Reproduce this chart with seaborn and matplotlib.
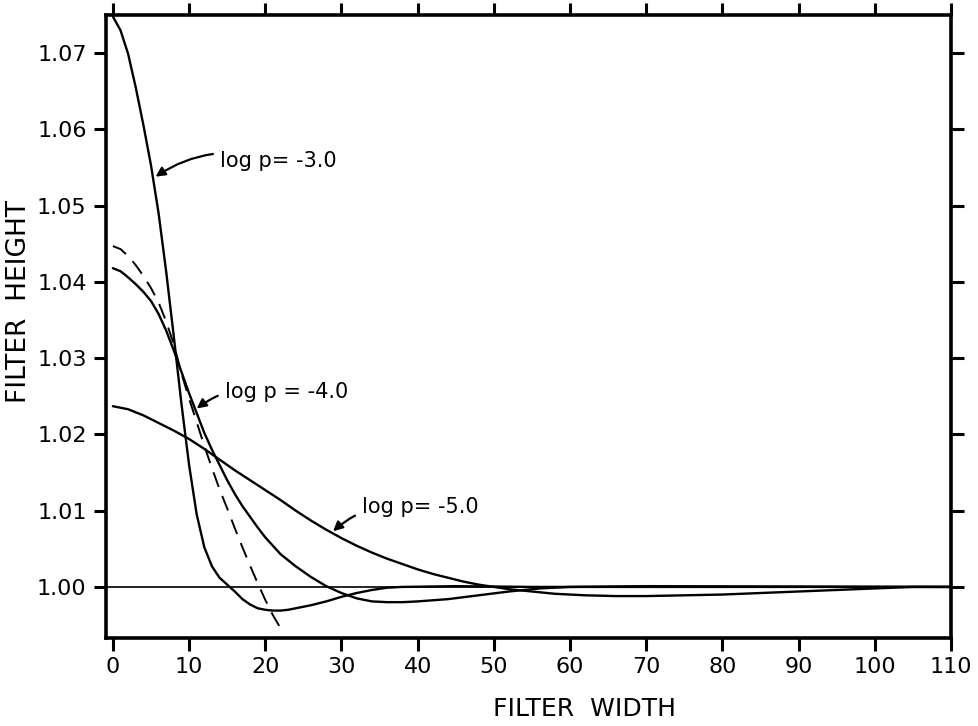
import numpy as np
import pandas as pd
import matplotlib
matplotlib.use("Agg")
import matplotlib.pyplot as plt
import seaborn as sns

# ---- data ----
width_p3 = [0, 1, 2, 3, 4, 5, 6, 7, 8, 9, 10, 11, 12, 13, 14, 15, 16, 17, 18, 19,
            20, 21, 22, 23, 24, 26, 28, 30, 32, 34, 36, 38, 45, 55, 110]
height_p3 = [1.0748, 1.0730, 1.0699, 1.0655, 1.0606, 1.0553, 1.0490, 1.0413, 1.0328,
             1.0240, 1.0160, 1.0095, 1.0052, 1.0027, 1.0012, 1.0003, 0.9994, 0.9984,
             0.9977, 0.9972, 0.9970, 0.9969, 0.9969, 0.9970, 0.9972, 0.9976, 0.9981,
             0.9987, 0.9992, 0.9996, 0.9999, 1.0000, 1.0001, 1.0000, 1.0000]

width_p4 = [0, 1, 2, 3, 4, 5, 6, 7, 8, 9, 10, 11, 12, 13, 14, 15, 16, 17, 18, 19, 20,
            22, 24, 26, 28, 30, 32, 34, 36, 38, 40, 44, 48, 52, 56, 60, 70, 110]
height_p4 = [1.0418, 1.0414, 1.0406, 1.0397, 1.0387, 1.0375, 1.0358, 1.0336, 1.0310,
             1.0282, 1.0254, 1.0228, 1.0202, 1.0180, 1.0160, 1.0140, 1.0122, 1.0106,
             1.0092, 1.0078, 1.0065, 1.0043, 1.0027, 1.0013, 1.0001, 0.9992, 0.9985,
             0.9981, 0.9980, 0.9980, 0.9981, 0.9984, 0.9989, 0.9994, 0.9998, 1.0000,
             1.0001, 1.0000]

width_p5 = [0, 2, 4, 6, 8, 10, 12, 14, 16, 18, 20, 22, 24, 26, 28, 30, 32, 34, 36, 38,
            40, 42, 44, 46, 48, 50, 52, 55, 58, 62, 66, 70, 75, 80, 85, 90, 95, 100,
            105, 110]
height_p5 = [1.0237, 1.0233, 1.0225, 1.0215, 1.0205, 1.0194, 1.0181, 1.0167, 1.0153,
             1.0140, 1.0127, 1.0114, 1.0100, 1.0087, 1.0075, 1.0064, 1.0054, 1.0045,
             1.0037, 1.0030, 1.0023, 1.0017, 1.0012, 1.0007, 1.0003, 1.0000, 0.9997,
             0.9994, 0.9991, 0.9989, 0.9988, 0.9988, 0.9989, 0.9990, 0.9992, 0.9994,
             0.9996, 0.9998, 1.0000, 1.0000]

width_dash = [0, 1, 2, 3, 4, 5, 6, 7, 8, 9, 10, 11, 12, 13, 14, 15, 16, 17, 18, 19,
              20, 21, 22]
height_dash = [1.0447, 1.0443, 1.0434, 1.0422, 1.0408, 1.0392, 1.0373, 1.0348, 1.0318,
               1.0280, 1.0247, 1.0216, 1.0185, 1.0156, 1.0128, 1.0103, 1.0077, 1.0052,
               1.0028, 1.0005, 0.9983, 0.9963, 0.9946]

x_ticks = [0, 10, 20, 30, 40, 50, 60, 70, 80, 90, 100, 110]
y_ticks = [1.00, 1.01, 1.02, 1.03, 1.04, 1.05, 1.06, 1.07]
y_tick_labels = ["1.00", "1.01", "1.02", "1.03", "1.04", "1.05", "1.06", "1.07"]

labels = ["log p= -3.0", "log p = -4.0", "log p= -5.0"]
label_text_pos = [(14.1, 1.0558), (14.7, 1.0256), (32.7, 1.0105)]
label_arrow_tip = [(5.6, 1.0538), (11.0, 1.0234), (28.9, 1.0073)]

# ---- drawing ----
sns.set_style("ticks")
plt.rcParams['font.family'] = ['DejaVu Sans']
plt.rcParams['text.color'] = 'black'
plt.rcParams['axes.labelcolor'] = 'black'
plt.rcParams['xtick.color'] = 'black'
plt.rcParams['ytick.color'] = 'black'

fig = plt.figure(figsize=(9.79, 7.26), dpi=100)
ax = fig.add_axes([0.1083, 0.1212, 0.8631, 0.8581])

df3 = pd.DataFrame({"w": width_p3, "h": height_p3})
df4 = pd.DataFrame({"w": width_p4, "h": height_p4})
df5 = pd.DataFrame({"w": width_p5, "h": height_p5})
dfd = pd.DataFrame({"w": width_dash, "h": height_dash})

ax.axhline(1.0, color="black", lw=1.2, zorder=1)
sns.lineplot(data=df3, x="w", y="h", color="black", lw=1.7, ax=ax, sort=False)
sns.lineplot(data=df4, x="w", y="h", color="black", lw=1.7, ax=ax, sort=False)
sns.lineplot(data=df5, x="w", y="h", color="black", lw=1.7, ax=ax, sort=False)
sns.lineplot(data=dfd, x="w", y="h", color="black", lw=1.4, ax=ax, sort=False,
             linestyle=(0, (8, 5)))

for txt, tp, ap in zip(labels, label_text_pos, label_arrow_tip):
    ax.annotate(txt, xy=ap, xytext=tp, ha="left", va="center", fontsize=15,
                color="black",
                arrowprops=dict(arrowstyle="-|>", color="black", lw=1.6,
                                mutation_scale=14, shrinkA=3, shrinkB=0,
                                connectionstyle="arc3,rad=0.25"))

ax.set_xlim(-0.9, 110)
ax.set_ylim(0.9933, 1.0750)
ax.set_xticks(x_ticks)
ax.set_xticklabels([str(t) for t in x_ticks])
ax.set_yticks(y_ticks)
ax.set_yticklabels(y_tick_labels)

for s in ax.spines.values():
    s.set_visible(True)
    s.set_linewidth(2.6)
    s.set_color("black")

ax.tick_params(axis="both", which="major", direction="out", length=9, width=2.2,
               labelsize=16, pad=5, colors="black")
ax.tick_params(top=True, right=True, labeltop=False, labelright=False)

ax.set_xlabel("FILTER  WIDTH", fontsize=18, color="black")
ax.set_ylabel("FILTER  HEIGHT", fontsize=19, color="black")
ax.xaxis.set_label_coords(0.566, -0.095)
ax.xaxis.label.set_verticalalignment("top")
ax.yaxis.set_label_coords(-0.088, 0.54)

fig.savefig("out.png", dpi=100, facecolor="white")
